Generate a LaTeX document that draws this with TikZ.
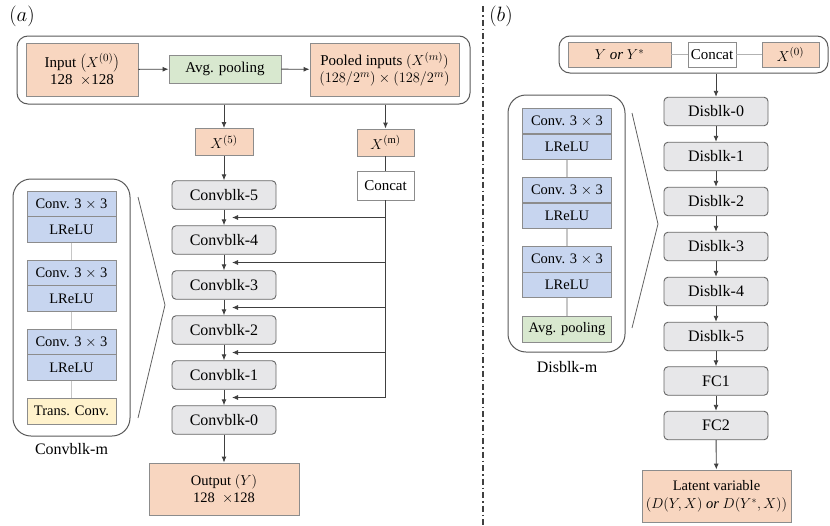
\documentclass[tikz,border=0pt]{standalone}
\usepackage{fontspec}
\setmainfont{Liberation Serif}
\usetikzlibrary{arrows.meta,calc}
\definecolor{peach}{HTML}{F8D6C0}
\definecolor{greenf}{HTML}{D8E8CF}
\definecolor{bluef}{HTML}{C7D5EF}
\definecolor{yellowf}{HTML}{FFF2CC}
\definecolor{grayf}{HTML}{E7E7E9}
\definecolor{edge}{HTML}{8C8C8C}
\definecolor{lin}{HTML}{404040}
\tikzset{
  base/.style={draw=edge, line width=0.9pt, inner sep=1pt, align=center, font=\fontsize{15}{17}\selectfont},
  pbox/.style={base, fill=peach},
  gbox/.style={base, fill=greenf},
  bbox/.style={base, fill=bluef, minimum width=89pt, minimum height=25.5pt, font=\fontsize{14.5}{16}\selectfont},
  ybox/.style={base, fill=yellowf, minimum width=89pt, minimum height=26pt, font=\fontsize{14.5}{16}\selectfont},
  wbox/.style={base, fill=white},
  blk/.style={base, fill=grayf, draw=gray!80!black, rounded corners=4pt, minimum width=104pt, minimum height=28.5pt, font=\fontsize{16}{18}\selectfont},
  outer/.style={draw=gray!70!black, line width=1pt, rounded corners=11pt},
  inset/.style={draw=gray!70!black, line width=1pt, rounded corners=18pt, minimum width=117pt, minimum height=257pt},
  arr/.style={draw=lin, line width=0.9pt, -{Latex[length=6pt,width=5pt]}},
  ln/.style={draw=lin, line width=0.9pt},
  lgt/.style={draw=gray!45, line width=1.2pt},
  zl/.style={draw=gray!75!black, line width=0.8pt},
  lbl/.style={font=\fontsize{16}{18}\selectfont}
}
\begin{document}
\begin{tikzpicture}[x=1pt,y=-1pt]
\useasboundingbox (0,0) rectangle (830,525);
% panel labels
\node[font=\fontsize{21}{23}\selectfont] (la) at (22,16) {$(a)$};
\node[font=\fontsize{21}{23}\selectfont] (lb) at (501,16) {$(b)$};
% separator
\draw[lin, line width=1.6pt, dash pattern=on 6pt off 3pt on 1.5pt off 3pt] (483,6) -- (483,525);

% ---------- panel (a) ----------
\node[outer, minimum width=453pt, minimum height=68pt] (topa) at (243.5,70) {};
\node[pbox, minimum width=112pt, minimum height=53pt] (in) at (82,69.5) {Input $\left(X^{(0)}\right)$\\128 \ $\times$128};
\node[gbox, minimum width=112pt, minimum height=28pt] (avg) at (225,69) {Avg. pooling};
\node[pbox, minimum width=149pt, minimum height=53pt] (pool) at (384.5,69.5) {Pooled inputs $(X^{(m)})$\\$(128/2^m)\times(128/2^m)$};
\draw[arr] (in) -- (avg);
\draw[arr] (avg) -- (pool);

\node[pbox, minimum width=58pt, minimum height=27pt] (x5) at (224,142) {$X^{(5)}$};
\node[pbox, minimum width=57pt, minimum height=27pt] (xm) at (385.5,142.5) {$X^{(\mathrm{m})}$};
\node[wbox, minimum width=57pt, minimum height=29pt] (cat) at (385.5,185.5) {Concat};
\draw[arr] (topa.south -| x5) -- (x5);
\draw[arr] (topa.south -| xm) -- (xm);
\draw[ln] (xm) -- (cat);

\foreach \i/\y in {5/195,4/240,3/285,2/330,1/375,0/420}{
  \node[blk] (c\i) at (224,\y) {Convblk-\i};
}
\draw[arr] (x5) -- (c5);
\foreach \a/\b in {5/4,4/3,3/2,2/1,1/0}{
  \draw[arr] (c\a) -- (c\b);
  \coordinate (f\a) at ($(c\a.south)!0.5!(c\b.north)$);
}
\coordinate (fend) at (385.5,397.5);
\draw[ln] (cat.south) -- (fend);
\foreach \a in {5,4,3,2,1}{
  \coordinate (t\a) at ([xshift=8pt]f\a);
  \draw[arr] (f\a -| cat) -- (t\a);
}
\node[pbox, minimum width=150pt, minimum height=52pt, font=\fontsize{14.5}{17}\selectfont] (out) at (224,489) {Output $(Y)$\\128 \ $\times$128};
\draw[arr] (c0) -- (out);

% inset a
\node[inset] (insa) at (71.5,307.5) {};
\node[bbox] (ac1) at (71.5,204) {Conv. 3 $\times$ 3};
\node[bbox] (ar1) at (71.5,229.5) {LReLU};
\node[bbox] (ac2) at (71.5,273) {Conv. 3 $\times$ 3};
\node[bbox] (ar2) at (71.5,298.5) {LReLU};
\node[bbox] (ac3) at (71.5,342) {Conv. 3 $\times$ 3};
\node[bbox] (ar3) at (71.5,367.5) {LReLU};
\node[ybox] (atc) at (71.5,411) {Trans. Conv.};
\draw[lgt] (ar1) -- (ac2);
\draw[lgt] (ar2) -- (ac3);
\draw[lgt] (ar3) -- (atc);
\node[lbl] (lma) at (71.5,449) {Convblk-m};
\coordinate (za1) at (138,197);
\coordinate (za2) at (165,305);
\coordinate (za3) at (138,418);
\draw[zl] (za1) -- (za2) -- (za3);

% ---------- panel (b) ----------
\node[outer, minimum width=269pt, minimum height=37pt] (topb) at (693.5,54.5) {};
\node[pbox, minimum width=103pt, minimum height=25pt] (yy) at (619.5,54.5) {$Y\ \mathit{or}\ Y^{*}$};
\node[wbox, minimum width=48pt, minimum height=25pt] (catb) at (712,54.5) {Concat};
\node[pbox, minimum width=57pt, minimum height=25pt] (x0) at (790.5,54.5) {$X^{(0)}$};
\draw[draw=gray!60, line width=0.9pt] (yy) -- (catb);
\draw[draw=gray!60, line width=0.9pt] (catb) -- (x0);

\foreach \i/\t/\y in {0/Disblk-0/111.5,1/Disblk-1/156.5,2/Disblk-2/201.5,3/Disblk-3/246.5,4/Disblk-4/291.5,5/Disblk-5/336.5,6/FC1/381,7/FC2/425.5}{
  \node[blk] (d\i) at (716,\y) {\t};
}
\draw[arr] (topb.south -| d0) -- (d0);
\foreach \a/\b in {0/1,1/2,2/3,3/4,4/5,5/6,6/7}{
  \draw[arr] (d\a) -- (d\b);
}
\node[pbox, minimum width=149pt, minimum height=52pt, font=\fontsize{14.5}{18}\selectfont] (lat) at (716.5,496) {Latent variable\\$\big(D(Y,X)\ \mathit{or}\ D(Y^{*},X)\big)$};
\draw[arr] (d7) -- (lat);

% inset b
\node[inset] (insb) at (566.5,223.5) {};
\node[bbox] (bc1) at (567,121) {Conv. 3 $\times$ 3};
\node[bbox] (br1) at (567,147) {LReLU};
\node[bbox] (bc2) at (567,190) {Conv. 3 $\times$ 3};
\node[bbox] (br2) at (567,216) {LReLU};
\node[bbox] (bc3) at (567,259.5) {Conv. 3 $\times$ 3};
\node[bbox] (br3) at (567,285) {LReLU};
\node[gbox, minimum width=89pt, minimum height=26pt, font=\fontsize{14.5}{16}\selectfont] (bavg) at (567,329) {Avg. pooling};
\draw[lgt] (br1) -- (bc2);
\draw[lgt] (br2) -- (bc3);
\draw[lgt] (br3) -- (bavg);
\node[lbl] (lmb) at (567,367) {Disblk-m};
\coordinate (zb1) at (632,113);
\coordinate (zb2) at (658,224);
\coordinate (zb3) at (632,328);
\draw[zl] (zb1) -- (zb2) -- (zb3);
\end{tikzpicture}
\end{document}
